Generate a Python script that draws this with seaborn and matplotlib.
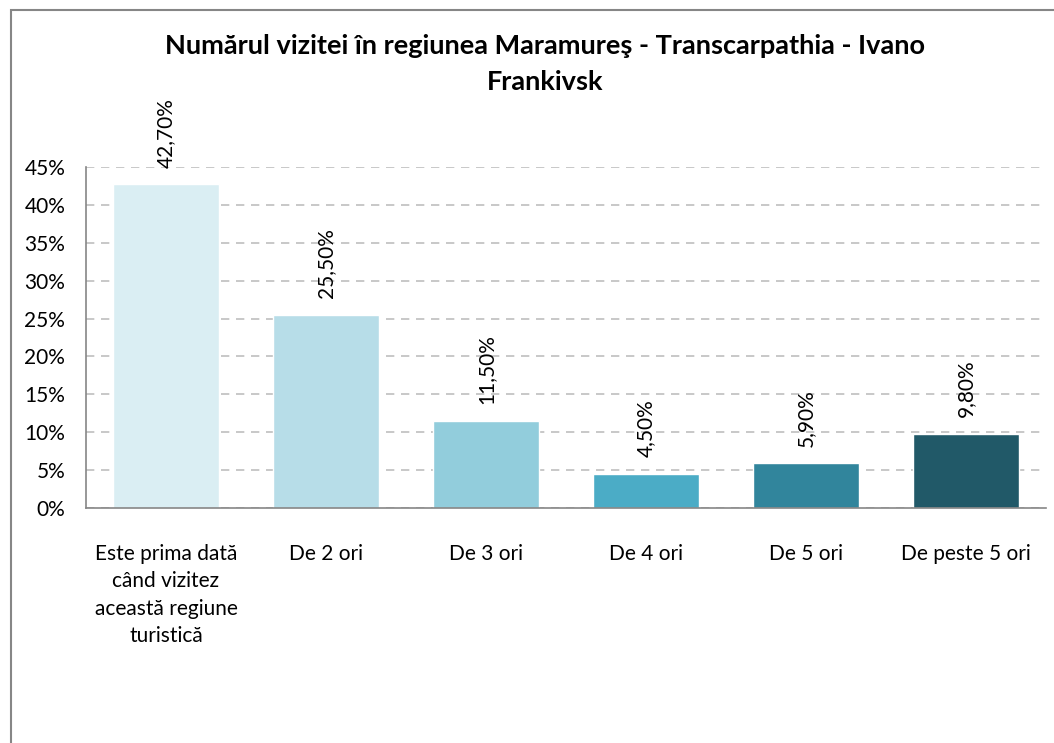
import matplotlib
matplotlib.use("Agg")
import matplotlib.pyplot as plt
import seaborn as sns
import pandas as pd
from matplotlib.patches import Rectangle

# data
categories = [
    "Este prima dată\ncând vizitez\naceastă regiune\nturistică",
    "De 2 ori",
    "De 3 ori",
    "De 4 ori",
    "De 5 ori",
    "De peste 5 ori",
]
values = [0.427, 0.255, 0.115, 0.045, 0.059, 0.098]
value_labels = ["42,70%", "25,50%", "11,50%", "4,50%", "5,90%", "9,80%"]
bar_colors = ["#DAEEF3", "#B7DDE8", "#92CDDC", "#4BACC6", "#31859C", "#215968"]
y_ticks = [0, 0.05, 0.10, 0.15, 0.20, 0.25, 0.30, 0.35, 0.40, 0.45]
y_tick_labels = ["0%", "5%", "10%", "15%", "20%", "25%", "30%", "35%", "40%", "45%"]
title = "Numărul vizitei în regiunea Maramureş - Transcarpathia - Ivano\nFrankivsk"

sns.set_style("white")
plt.rcParams['font.family'] = ['Lato', 'DejaVu Sans']
plt.rcParams['text.color'] = 'black'

df = pd.DataFrame({"cat": categories, "val": values})

fig = plt.figure(figsize=(10.54, 7.43), dpi=100)
ax = fig.add_axes([86 / 1054, 235 / 743, 960 / 1054, 341 / 743])

sns.barplot(data=df, x="cat", y="val", hue="cat", palette=bar_colors,
            width=0.66, saturation=1, legend=False, ax=ax)

ax.set_ylim(0, 0.45)
ax.set_xlim(-0.5, len(categories) - 0.5)
ax.set_yticks(y_ticks)
ax.set_yticklabels(y_tick_labels)
ax.set_xlabel("")
ax.set_ylabel("")
ax.tick_params(axis="both", length=0, labelsize=15, colors="black")
ax.tick_params(axis="x", pad=26)
ax.tick_params(axis="y", pad=15)
for lbl in ax.get_xticklabels():
    lbl.set_linespacing(1.45)

ax.yaxis.grid(True, color="#BFBFBF", linestyle=(0, (5, 4)), linewidth=1.2)
ax.set_axisbelow(True)
for side in ["top", "right"]:
    ax.spines[side].set_visible(False)
for side in ["left", "bottom"]:
    ax.spines[side].set_color("#868686")
    ax.spines[side].set_linewidth(1.2)

# rotated value labels above bars
for i, (v, txt) in enumerate(zip(values, value_labels)):
    ax.annotate(txt, (i, v), xytext=(0, 12), textcoords="offset points",
                rotation=90, ha="center", va="bottom", fontsize=15,
                color="black")

fig.text(545 / 1054, 1 - 64 / 743, title, ha="center", va="center",
         fontsize=19.5, fontweight="bold", linespacing=1.65, color="black")

# chart area border
fig.patches.append(Rectangle((11 / 1054, -0.1), 1.2, 1.1 - 10 / 743,
                             transform=fig.transFigure, fill=False,
                             edgecolor="#868686", linewidth=1.5))

fig.savefig("out.png", dpi=100)
